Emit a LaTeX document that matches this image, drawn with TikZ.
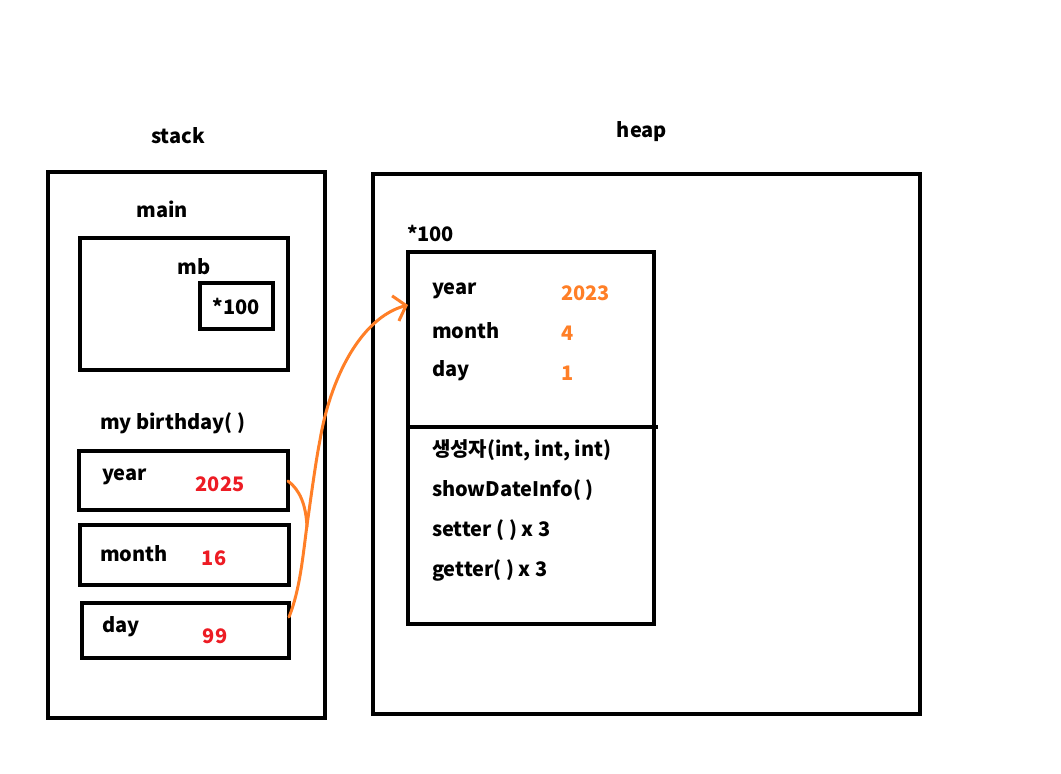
\documentclass[tikz,border=0pt]{standalone}
\usepackage{fontspec}
\setmainfont{Noto Sans CJK KR}
\usetikzlibrary{arrows.meta}
\definecolor{paintred}{RGB}{237,28,36}
\definecolor{paintorange}{RGB}{255,127,39}
\begin{document}
\begin{tikzpicture}[x=1pt,y=-1pt,line width=4pt,
  box/.style={draw,anchor=north west,inner sep=0pt,outer sep=0pt},
  lbl/.style={font=\fontsize{20}{23}\selectfont\bfseries,inner sep=0pt},
  val/.style={lbl,text=paintred},
  hval/.style={lbl,text=paintorange,anchor=west}]
\useasboundingbox (0,0) rectangle (1061,774);

% Titles
\node[lbl] (stacktitle) at (178,136) {stack};
\node[lbl] (heaptitle) at (642,132) {heap};

% Stack
\node[box,minimum width=277,minimum height=546] (stack) at (48,172) {};
\node[lbl] (main) at (162,209) {main};
\node[box,minimum width=208,minimum height=132] (mainbox) at (80,238) {};
\node[lbl] (mb) at (194,267) {mb};
\node[box,minimum width=73,minimum height=46] (ref) at (200,283) {};
\node[lbl] (refval) at (ref.center) {*100};

\node[lbl,anchor=west] (bday) at (98,423) {my birthday( )};
\node[box,minimum width=209,minimum height=59] (yearbox) at (79,451) {};
\node[lbl,anchor=west] (year) at (100,477) {year};
\node[val] (yearval) at (220,484) {2025};
\node[box,minimum width=209,minimum height=60] (monthbox) at (80,525) {};
\node[lbl,anchor=west] (month) at (98,554) {month};
\node[val] (monthval) at (214,558) {16};
\node[box,minimum width=207,minimum height=55] (daybox) at (82,603) {};
\node[lbl,anchor=west] (day) at (100,627) {day};
\node[val] (dayval) at (215,636) {99};

% Heap
\node[box,minimum width=547,minimum height=540] (heap) at (373,174) {};
\node[lbl,anchor=west] (addr) at (405,233) {*100};
\node[box,minimum width=246,minimum height=372] (obj) at (408,252) {};
\draw (obj.west |- 0,427) -- (658,427);

\node[lbl,anchor=west] (hyear) at (430,291) {year};
\node[hval] (hyearval) at (559,293) {2023};
\node[lbl,anchor=west] (hmonth) at (430,331) {month};
\node[hval] (hmonthval) at (559,333) {4};
\node[lbl,anchor=west] (hday) at (430,371) {day};
\node[hval] (hdayval) at (559,373) {1};

\node[lbl,anchor=west] (ctor) at (430,450) {생성자(int, int, int)};
\node[lbl,anchor=west] (show) at (430,490) {showDateInfo( )};
\node[lbl,anchor=west] (setter) at (430,530) {setter ( ) x 3};
\node[lbl,anchor=west] (getter) at (430,570) {getter( ) x 3};

% Reference arrow
\coordinate (from) at (daybox.east |- 0,617);
\coordinate (hook) at (yearbox.east |- 0,481);
\coordinate (to) at (obj.west |- 0,305);
\draw[paintorange,line width=3pt,line cap=round]
  (hook) .. controls (300,490) and (306,505) .. (307,527);
\draw[paintorange,line width=3pt,line cap=round,
  -{Straight Barb[length=11pt,width=26pt,line width=3pt]}]
  (from) .. controls (300,590) and (303,555) .. (307,525)
  .. controls (312,490) and (316,460) .. (320,440)
  .. controls (330,380) and (360,318) .. (to);

\end{tikzpicture}
\end{document}
